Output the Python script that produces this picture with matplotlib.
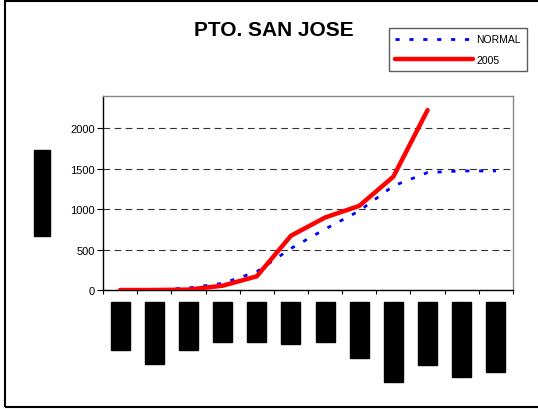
import matplotlib
matplotlib.use("Agg")
import matplotlib.pyplot as plt
from matplotlib.patches import Rectangle

plt.rcParams['font.family'] = ['Liberation Sans', 'DejaVu Sans']

months = ["ENERO", "FEBRERO", "MARZO", "ABRIL", "MAYO", "JUNIO",
          "JULIO", "AGOSTO", "SEPTIEMBRE", "OCTUBRE", "NOVIEMBRE", "DICIEMBRE"]
normal = [0, 0, 25, 82, 226, 514, 753, 979, 1288, 1453, 1473, 1473]
y2005 = [0, 0, 5, 53, 169, 671, 897, 1041, 1403, 2226]
title = "PTO. SAN JOSE"
ylabel = "MILIMETROS"

fig = plt.figure(figsize=(5.38, 4.10), dpi=100)
W, H = 538, 410
ax = fig.add_axes([103 / W, 1 - 291 / H, (513 - 103) / W, (291 - 97) / H])

# outer border
fig.patches.append(Rectangle((5 / W, 2 / H), 1.2, 406 / H, transform=fig.transFigure,
                             fill=False, edgecolor='black', linewidth=1.5))

x = list(range(len(months)))
ax.plot(x, normal, color='#0000FF', linewidth=2, linestyle=(0, (1.5, 3.5)),
        label='NORMAL', zorder=3)
ax.plot(x[:len(y2005)], y2005, color='#FF0000', linewidth=3.2, label='2005',
        solid_capstyle='round', zorder=4)

ax.set_xlim(-0.5, len(months) - 0.5)
ax.set_ylim(0, 2400)
ax.set_yticks([0, 500, 1000, 1500, 2000])
ax.yaxis.grid(True, linestyle=(0, (6, 4)), color='#333333', linewidth=0.8)
ax.set_axisbelow(True)
ax.tick_params(axis='y', labelsize=8, direction='out', length=4, width=0.8, pad=2)

# category boundary ticks on x
ax.set_xticks([i - 0.5 for i in range(len(months) + 1)])
ax.set_xticklabels([])
ax.tick_params(axis='x', direction='out', length=3, width=0.8)
for i, m in enumerate(months):
    ax.text(i, -0.083, m, transform=ax.get_xaxis_transform(), rotation=90,
            ha='center', va='top', fontsize=8, color='black',
            bbox=dict(boxstyle='square,pad=0.4', facecolor='black', edgecolor='black'))

for s in ['top', 'right']:
    ax.spines[s].set_color('#888888')
for s in ['left', 'bottom']:
    ax.spines[s].set_color('black')
for s in ax.spines.values():
    s.set_linewidth(1)

fig.text(42 / W, 1 - 194 / H, ylabel, rotation=90, ha='center', va='center',
         fontsize=9.5, color='black',
         bbox=dict(boxstyle='square,pad=0.12', facecolor='black', edgecolor='black'))

fig.text(274 / W, 1 - 30 / H, title, ha='center', va='center', fontsize=15,
         fontweight='bold')

leg = fig.legend(loc='upper left', bbox_to_anchor=(389 / W, 1 - 29 / H),
                 bbox_transform=fig.transFigure, frameon=True, fancybox=False,
                 fontsize=7.5, handlelength=7.5, handletextpad=0.3,
                 borderpad=0.6, labelspacing=1.0, borderaxespad=0)
leg.get_frame().set_edgecolor('#333333')
leg.get_frame().set_linewidth(1)

fig.savefig("out.png", dpi=100)
